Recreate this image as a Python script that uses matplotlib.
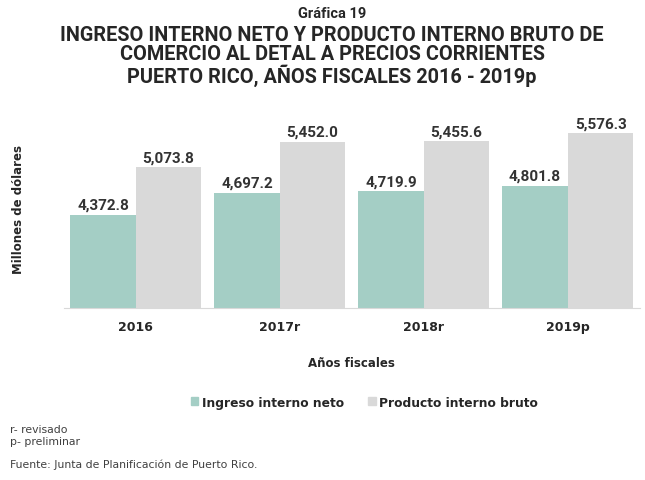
import matplotlib
matplotlib.use("Agg")
import matplotlib.pyplot as plt
import numpy as np
from matplotlib.patches import Rectangle

categories = ["2016", "2017r", "2018r", "2019p"]
ingreso = [4372.8, 4697.2, 4719.9, 4801.8]
producto = [5073.8, 5452.0, 5455.6, 5576.3]
series_names = ["Ingreso interno neto", "Producto interno bruto"]

GREEN = "#A4CEC5"
GREY = "#D9D9D9"
TXT = "#262626"

fig = plt.figure(figsize=(6.45, 4.81), dpi=100)
ax = fig.add_axes([0.099, 0.3576, 0.893, 0.4234])

x = np.arange(len(categories))
w = 0.455
b1 = ax.bar(x - w / 2, ingreso, w, color=GREEN)
b2 = ax.bar(x + w / 2, producto, w, color=GREY)
ax.set_ylim(3000, 6000)
ax.set_xlim(-0.5, 3.5)

narrow = ["Roboto", "DejaVu Sans"]
for bars, vals in ((b1, ingreso), (b2, producto)):
    for r, v in zip(bars, vals):
        ax.annotate(f"{v:,.1f}", (r.get_x() + r.get_width() / 2, v),
                    xytext=(0, 2), textcoords="offset points",
                    ha="center", va="bottom", fontsize=11, fontweight="bold",
                    color="#333333", family=narrow)

for s in ["top", "right", "left"]:
    ax.spines[s].set_visible(False)
ax.spines["bottom"].set_color("#D9D9D9")
ax.set_yticks([])
ax.set_xticks(x)
ax.set_xticklabels(categories, fontsize=9, fontweight="bold", color=TXT)
ax.tick_params(axis="x", length=0, pad=9)

fig.text(0.028, 0.565, "Millones de dólares", rotation=90, ha="center", va="center",
         fontsize=8.5, fontweight="bold", color=TXT)
fig.text(0.545, 0.245, "Años fiscales", ha="center", va="center",
         fontsize=8.5, fontweight="bold", color=TXT)

fig.text(0.515, 0.971, "Gráfica 19", ha="center", va="center", fontsize=10.5,
         fontweight="bold", color=TXT, family=narrow)
title = ("INGRESO INTERNO NETO Y PRODUCTO INTERNO BRUTO DE\n"
         "COMERCIO AL DETAL A PRECIOS CORRIENTES\n"
         "PUERTO RICO, AÑOS FISCALES 2016 - 2019p")
fig.text(0.515, 0.882, title, ha="center", va="center", fontsize=14.3,
         fontweight="bold", color=TXT, family=narrow, linespacing=1.02)

handles = [Rectangle((0, 0), 1, 1, color=GREEN), Rectangle((0, 0), 1, 1, color=GREY)]
leg = fig.legend(handles, series_names, loc="center", bbox_to_anchor=(0.565, 0.162),
                 ncol=2, frameon=False, handlelength=0.6, handleheight=0.6,
                 handletextpad=0.3, columnspacing=2.0,
                 prop={"size": 8.8, "weight": "bold"})
for t in leg.get_texts():
    t.set_color(TXT)

fig.text(0.016, 0.105, "r- revisado", fontsize=7.8, color="#404040", va="center")
fig.text(0.016, 0.082, "p- preliminar", fontsize=7.8, color="#404040", va="center")
fig.text(0.016, 0.033, "Fuente: Junta de Planificación de Puerto Rico.", fontsize=7.8,
         color="#404040", va="center")

fig.savefig("out.png", dpi=100)
